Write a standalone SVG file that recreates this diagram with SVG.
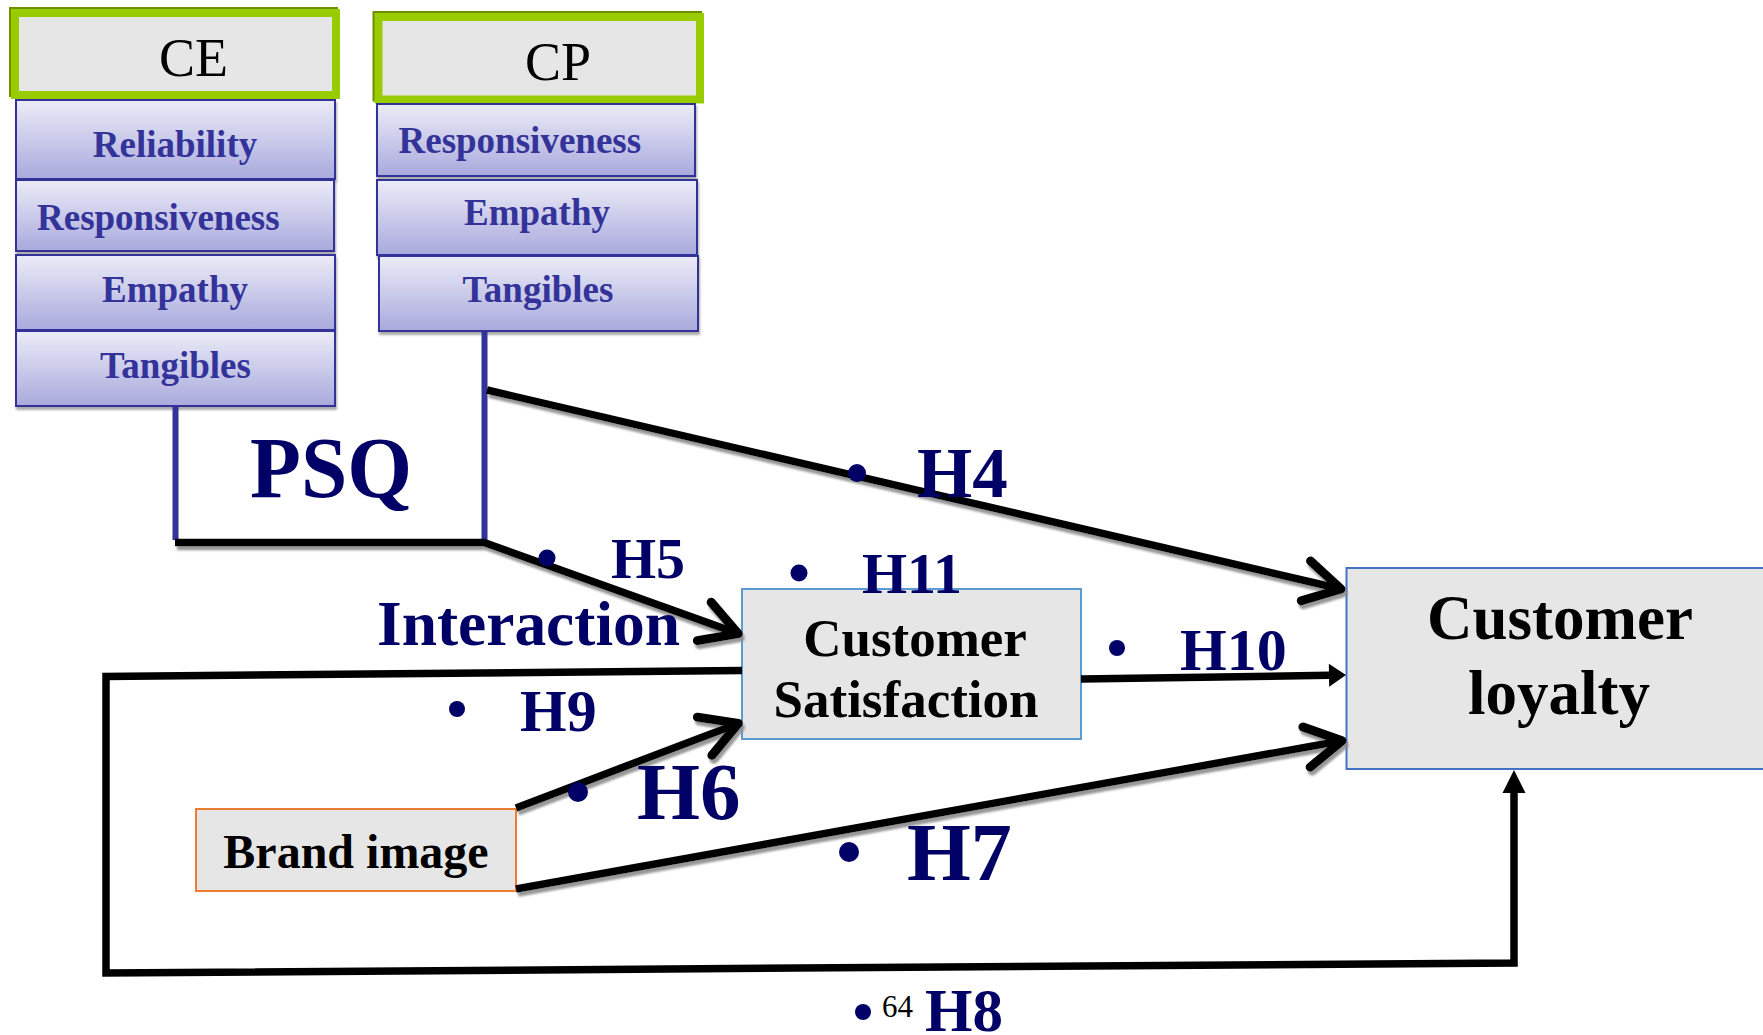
<svg xmlns="http://www.w3.org/2000/svg" width="1763" height="1035" viewBox="0 0 1763 1035">
<style>
text{font-family:"Liberation Serif","Times New Roman",serif}
.hdr{font-size:54px;fill:#000}
.dim{font-size:37px;font-weight:bold;fill:#333399}
.sub{fill:url(#gBlue);stroke:#333399;stroke-width:2;filter:url(#boxSh)}
.grn{fill:#e6e6e6;stroke:#99cc00;stroke-width:8}
.olv{fill:none;stroke:#6f8f00;stroke-width:8}
.lbl{font-weight:bold;fill:#000066}
.nm{font-weight:bold;fill:#000}
.ln{fill:none;stroke:#000;stroke-width:7.5}
.sh{filter:url(#lnSh)}
.dot{fill:#000066}
</style>
<defs>
<linearGradient id="gBlue" x1="0" y1="0" x2="0" y2="1">
<stop offset="0" stop-color="#ececf8"/>
<stop offset="1" stop-color="#a9a9dd"/>
</linearGradient>
<filter id="lnSh" x="-5%" y="-20%" width="110%" height="140%">
<feDropShadow dx="2" dy="4" stdDeviation="0.8" flood-color="#8c8c8c" flood-opacity="0.9"/>
</filter>
<filter id="boxSh" x="-5%" y="-10%" width="110%" height="125%">
<feDropShadow dx="1" dy="3" stdDeviation="0.8" flood-color="#888" flood-opacity="0.7"/>
</filter>
<marker id="chev" markerUnits="userSpaceOnUse" orient="auto-start-reverse" markerWidth="60" markerHeight="60" refX="0" refY="0" viewBox="-40 -25 50 50" overflow="visible">
<path d="M -30 -17 L 0 0 L -30 17" fill="none" stroke="#000" stroke-width="7.5" stroke-linecap="round" stroke-linejoin="round"/>
</marker>
<marker id="tri" markerUnits="userSpaceOnUse" orient="auto" markerWidth="40" markerHeight="40" refX="0" refY="0" viewBox="-5 -20 40 40" overflow="visible">
<path d="M 0 -11.5 L 17 0 L 0 11.5 Z" fill="#000"/>
</marker>
<marker id="triB" markerUnits="userSpaceOnUse" orient="auto" markerWidth="40" markerHeight="40" refX="0" refY="0" viewBox="-5 -20 40 40" overflow="visible">
<path d="M 0 -11.5 L 23 0 L 0 11.5 Z" fill="#000"/>
</marker>
</defs>
<rect width="1763" height="1035" fill="#fff"/>

<g id="CE">
<rect class="olv" x="13" y="11" width="321" height="82"/>
<rect class="grn" x="15" y="13" width="321" height="82"/>
<text class="hdr" x="193.5" y="76" text-anchor="middle">CE</text>
</g>
<g id="CE-Reliability">
<rect class="sub" x="16" y="100" width="319" height="79"/>
<text class="dim" x="175" y="157" text-anchor="middle">Reliability</text>
</g>
<g id="CE-Responsiveness">
<rect class="sub" x="16" y="180" width="318" height="71"/>
<text class="dim" x="37" y="230">Responsiveness</text>
</g>
<g id="CE-Empathy">
<rect class="sub" x="16" y="255" width="319" height="75"/>
<text class="dim" x="175" y="302" text-anchor="middle">Empathy</text>
</g>
<g id="CE-Tangibles">
<rect class="sub" x="16" y="331" width="319" height="75"/>
<text class="dim" x="175.5" y="378" text-anchor="middle">Tangibles</text>
</g>

<g id="CP">
<rect class="olv" x="376.5" y="15" width="321.5" height="82.5"/>
<rect class="grn" x="378.5" y="17" width="321.5" height="82.5"/>
<text class="hdr" x="558" y="80" text-anchor="middle">CP</text>
</g>
<g id="CP-Responsiveness">
<rect class="sub" x="377" y="104" width="318" height="72"/>
<text class="dim" x="398.5" y="153">Responsiveness</text>
</g>
<g id="CP-Empathy">
<rect class="sub" x="377" y="180" width="320" height="75"/>
<text class="dim" x="537" y="225" text-anchor="middle">Empathy</text>
</g>
<g id="CP-Tangibles">
<rect class="sub" x="379" y="256" width="319" height="75"/>
<text class="dim" x="538" y="302" text-anchor="middle">Tangibles</text>
</g>

<g id="PSQ">
<line x1="175.5" y1="406" x2="175.5" y2="540" stroke="#333399" stroke-width="6"/>
<line x1="484.5" y1="331" x2="484.5" y2="540" stroke="#333399" stroke-width="6"/>
<text class="lbl" x="250" y="497" font-size="86" textLength="162" lengthAdjust="spacingAndGlyphs">PSQ</text>
</g>

<g id="CustomerSatisfaction">
<rect x="742" y="589" width="339" height="150" fill="#e6e6e6" stroke="#5b9bd5" stroke-width="2"/>
<text class="nm" x="915" y="656" font-size="53" text-anchor="middle">Customer</text>
<text class="nm" x="906" y="717" font-size="53" text-anchor="middle">Satisfaction</text>
</g>

<g id="CustomerLoyalty">
<rect x="1346.5" y="568" width="430" height="201" fill="#e6e6e6" stroke="#4472c4" stroke-width="2"/>
<text class="nm" x="1560" y="639" font-size="63" text-anchor="middle">Customer</text>
<text class="nm" x="1559" y="714" font-size="63" text-anchor="middle">loyalty</text>
</g>

<g id="BrandImage">
<rect x="196" y="809" width="320" height="82" fill="#e6e6e6" stroke="#ed7d31" stroke-width="2"/>
<text class="nm" x="356" y="868" font-size="48" text-anchor="middle">Brand image</text>
</g>

<g id="connectors">
<polyline class="ln sh" points="175,542.5 484,542.5 738.2,633.6" marker-end="url(#chev)"/>
<line class="ln sh" x1="487" y1="390" x2="1341" y2="589" marker-end="url(#chev)"/>
<line class="ln sh" x1="360.5" y1="549" x2="360.5" y2="796" marker-start="url(#chev)" marker-end="url(#chev)"/>
<line class="ln sh" x1="516" y1="808" x2="738.3" y2="723.4" marker-end="url(#chev)"/>
<line class="ln sh" x1="516" y1="889" x2="1342" y2="740.7" marker-end="url(#chev)"/>
<line class="ln" x1="1081" y1="679" x2="1329" y2="675.3" marker-end="url(#tri)"/>
<polyline class="ln" points="742,670.5 106,676.5 106,973 1514,963 1514,793" stroke-linejoin="miter" marker-end="url(#triB)"/>
</g>

<g id="labels">
<circle class="dot" cx="857" cy="473" r="9"/>
<text class="lbl" x="917" y="497" font-size="71">H4</text>
<circle class="dot" cx="547" cy="558" r="8.5"/>
<text class="lbl" x="611" y="578" font-size="58">H5</text>
<circle class="dot" cx="799" cy="573" r="8.5"/>
<text class="lbl" x="862" y="593" font-size="58">H11</text>
<text class="lbl" x="377" y="645" font-size="63" textLength="303" lengthAdjust="spacingAndGlyphs">Interaction</text>
<circle class="dot" cx="457" cy="709" r="8"/>
<text class="lbl" x="520" y="731" font-size="60">H9</text>
<circle class="dot" cx="1117" cy="648" r="8"/>
<text class="lbl" x="1180" y="670" font-size="60">H10</text>
<circle class="dot" cx="578" cy="792" r="10"/>
<text class="lbl" x="637" y="819" font-size="81">H6</text>
<circle class="dot" cx="849" cy="852" r="10"/>
<text class="lbl" x="907" y="880" font-size="82">H7</text>
<circle class="dot" cx="863" cy="1012" r="8"/>
<text x="882" y="1016.5" font-size="31" fill="#000">64</text>
<text class="lbl" x="925" y="1031" font-size="61">H8</text>
</g>
</svg>
